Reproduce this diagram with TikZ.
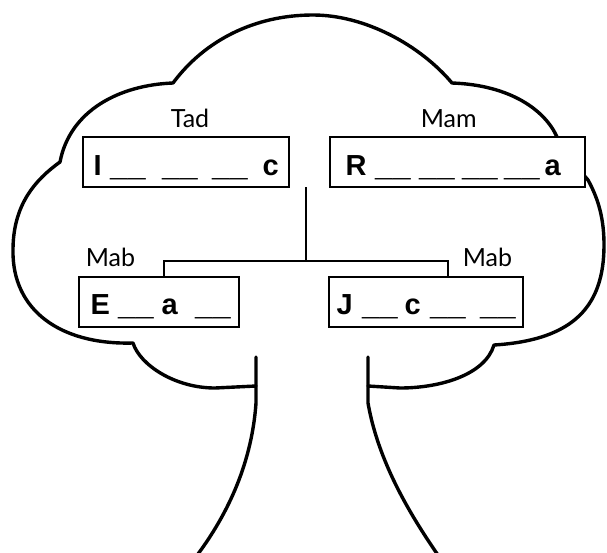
\documentclass[tikz,border=0pt]{standalone}
\usepackage{fontspec}
\setmainfont{Liberation Sans}
\newfontfamily\lblfont{Lato}
\newcommand\putat[2]{\rlap{\hspace*{#1pt}#2}}
\newcommand\blankline{\scalebox{1.09}[1.25]{\_\_}}
\tikzset{
  outline/.style={line width=3.4pt, line cap=round, line join=round},
  namebox/.style={draw, line width=1.6pt, fill=white, inner sep=0pt, minimum height=50pt},
  letters/.style={anchor=base west, inner sep=0pt, font=\fontsize{29}{34}\selectfont\bfseries},
  lbl/.style={anchor=base, inner sep=0pt, font=\lblfont\fontsize{25}{30}\selectfont},
  link/.style={line width=1.5pt},
}
\begin{document}
\begin{tikzpicture}[x=1pt,y=-1pt]
\useasboundingbox (0,0) rectangle (607,552);
% crown of the tree
\draw[outline] (256,386) -- (215,388) .. controls (175,388) and (140,365) .. (133,343)
  .. controls (60,345) and (12,310) .. (13,250)
  .. controls (13,205) and (35,180) .. (60,162)
  .. controls (70,110) and (120,85) .. (173,83)
  .. controls (205,40) and (255,15) .. (313,15)
  .. controls (365,15) and (420,45) .. (452,83)
  .. controls (510,85) and (545,110) .. (557,137)
  .. controls (565,155) and (578,168) .. (588,180)
  .. controls (599,200) and (604,220) .. (604,245)
  .. controls (604,305) and (575,340) .. (494,345)
  .. controls (485,375) and (440,388) .. (400,388) -- (368,386);
% trunk
\draw[outline] (256,357) -- (256,403) .. controls (252,460) and (230,512) .. (195,558);
\draw[outline] (368,357) -- (368,403) .. controls (378,460) and (408,512) .. (440,558);
% boxes
\node[namebox, minimum width=206pt] (tad) at (186,162) {};
\node[namebox, minimum width=255pt] (mam) at (457.5,162) {};
\node[namebox, minimum width=160pt] (ebox) at (159,302) {};
\node[namebox, minimum width=194pt] (jbox) at (426,302) {};
% letters
\node[letters] (tadtxt) at (83,175) {\putat{10}{I}\putat{27}{\blankline}\putat{79}{\blankline}\putat{129}{\blankline}\putat{179}{c}};
\node[letters] (mamtxt) at (330,175) {\putat{15}{R}\putat{45}{\blankline}\putat{89}{\blankline}\putat{132}{\blankline}\putat{174}{\blankline}\putat{214}{a}};
\node[letters] (etxt) at (79,314) {\putat{11}{E}\putat{39}{\blankline}\putat{82}{a}\putat{116}{\blankline}};
\node[letters] (jtxt) at (329,314) {\putat{7}{J}\putat{33}{\blankline}\putat{75}{c}\putat{101}{\blankline}\putat{151}{\blankline}};
% labels
\node[lbl] (tadlbl) at (190,127.7) {Tad};
\node[lbl] (mamlbl) at (448.7,127.7) {Mam};
\node[lbl] (mabl) at (110.5,266.7) {Mab};
\node[lbl] (mabr) at (487.5,266.7) {Mab};
% connectors
\coordinate (top) at (306,187);
\coordinate (junc) at (306,261);
\coordinate (jl) at (164,261);
\coordinate (jr) at (448,261);
\draw[link] (top) -- (junc);
\draw[link] (jl |- ebox.north) -- (jl) -- (jr) -- (jr |- jbox.north);
\end{tikzpicture}
\end{document}
